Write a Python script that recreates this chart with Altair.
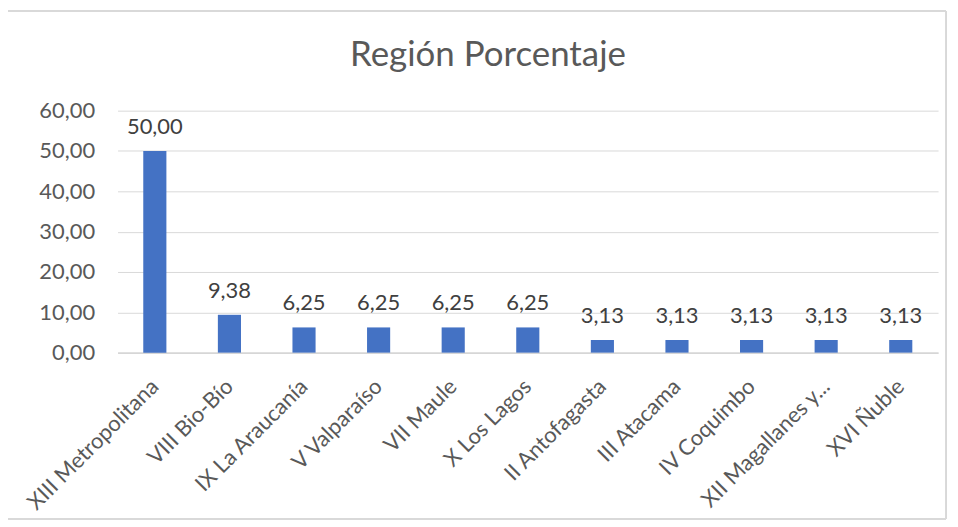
import altair as alt
import pandas as pd

regions = ["XIII Metropolitana", "VIII Bio-Bío", "IX La Araucanía", "V Valparaíso",
           "VII Maule", "X Los Lagos", "II Antofagasta", "III Atacama",
           "IV Coquimbo", "XII Magallanes y...", "XVI Ñuble"]
values = [50.00, 9.38, 6.25, 6.25, 6.25, 6.25, 3.13, 3.13, 3.13, 3.13, 3.13]
y_ticks = [0, 10, 20, 30, 40, 50, 60]

df = pd.DataFrame({"region": regions, "pct": values})

FONT = "Lato"
GREY = "#595959"

base = alt.Chart(df).encode(
    x=alt.X("region:N", sort=regions, title=None,
            scale=alt.Scale(paddingInner=0.69, paddingOuter=0.345),
            axis=alt.Axis(labelAngle=-45, labelAlign="right", labelBaseline="top",
                          labelFontSize=22, labelColor=GREY, labelFont=FONT,
                          ticks=False, domainColor="#d0d0d0", domainWidth=1.5,
                          labelPadding=23, labelOffset=-7, labelLimit=300)),
    y=alt.Y("pct:Q", title=None,
            scale=alt.Scale(domain=[0, 60], nice=False),
            axis=alt.Axis(values=y_ticks, grid=True, gridColor="#d9d9d9",
                          domain=False, ticks=False, labelPadding=23,
                          labelFontSize=22, labelColor=GREY, labelFont=FONT,
                          labelExpr="replace(format(datum.value, '.2f'), '.', ',')")),
)

bars = base.mark_bar(color="#4472C4")
labels = base.transform_calculate(
    lab="replace(format(datum.pct, '.2f'), '.', ',')"
).mark_text(baseline="alphabetic", dy=-17, fontSize=22, color="#404040", font=FONT).encode(
    text="lab:N")

frame = alt.Chart(df).mark_rect(fill=None, stroke="#d9d9d9", strokeWidth=1).encode(
    x=alt.value(-114), x2=alt.value(832), y=alt.value(-100), y2=alt.value(410))

chart = alt.layer(frame, bars, labels).properties(
    width=824, height=243,
    title=alt.TitleParams("Región Porcentaje", fontSize=35, font=FONT, fontWeight="normal",
                          color=GREY, anchor="middle", dx=-40, dy=34, offset=-57,
                          baseline="alphabetic"),
    autosize=alt.AutoSizeParams(type="none"),
    padding={"left": 110, "top": 102, "right": 12, "bottom": 170},
).configure_view(stroke=None)

chart.save("out.html", embed_options={"renderer": "svg", "actions": False})
